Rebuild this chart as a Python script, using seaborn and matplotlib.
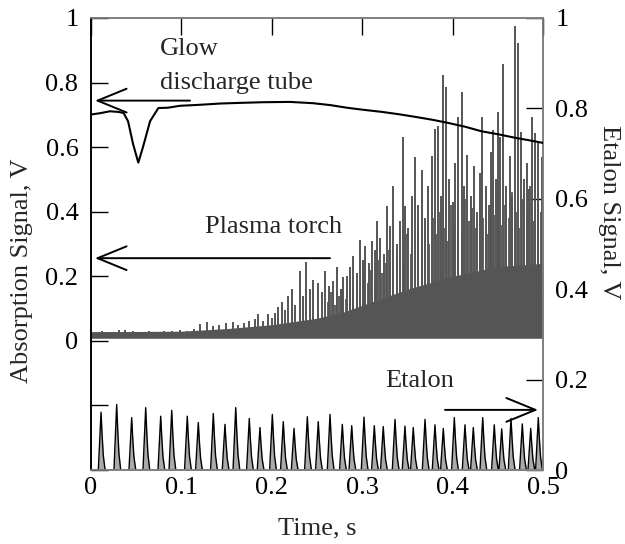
import numpy as np
import pandas as pd
import matplotlib
matplotlib.use('Agg')
import matplotlib.pyplot as plt
import seaborn as sns

# Glow discharge tube absorption (left axis)
glow_t = [0.000, 0.010, 0.021, 0.030, 0.036, 0.041, 0.0465, 0.0523, 0.0575, 0.0653,
          0.0745, 0.085, 0.0985, 0.120, 0.143, 0.165, 0.190, 0.220, 0.2456, 0.265,
          0.283, 0.300, 0.322, 0.340, 0.358, 0.377, 0.395, 0.414, 0.432, 0.450,
          0.469, 0.485, 0.500]
glow_v = [0.701, 0.705, 0.711, 0.709, 0.706, 0.680, 0.610, 0.552, 0.600, 0.680,
          0.721, 0.722, 0.728, 0.731, 0.735, 0.737, 0.739, 0.740, 0.736, 0.730,
          0.722, 0.716, 0.709, 0.702, 0.694, 0.685, 0.675, 0.663, 0.649, 0.640,
          0.629, 0.621, 0.613]

# Plasma torch absorption (left axis): baseline, dense band top, spikes
torch_base_t = [0.0, 0.1, 0.2, 0.3, 0.4, 0.5]
torch_base_v = [0.021, 0.021, 0.020, 0.019, 0.018, 0.018]
band_t = [0.0, 0.10, 0.15, 0.20, 0.25, 0.28, 0.30, 0.35, 0.40, 0.45, 0.50]
band_top = [0.028, 0.03, 0.038, 0.05, 0.07, 0.09, 0.11, 0.16, 0.20, 0.23, 0.24]
spike_t = [0.012, 0.020, 0.031, 0.038, 0.047, 0.056, 0.064, 0.072, 0.081, 0.090,
           0.098, 0.106, 0.114, 0.121, 0.128, 0.135, 0.142, 0.149, 0.157, 0.163,
           0.169, 0.175, 0.181, 0.185, 0.190, 0.196, 0.200, 0.204, 0.207, 0.211,
           0.215, 0.218, 0.222, 0.226, 0.231, 0.234, 0.238, 0.242, 0.246, 0.251,
           0.255, 0.259, 0.263, 0.268, 0.272, 0.276, 0.279, 0.283, 0.287, 0.290,
           0.294, 0.298, 0.301, 0.303, 0.307, 0.311, 0.314, 0.316, 0.320, 0.324,
           0.327, 0.331, 0.334, 0.338, 0.342, 0.345, 0.347, 0.351, 0.355, 0.358,
           0.362, 0.366, 0.370, 0.373, 0.377, 0.381, 0.384, 0.387, 0.389, 0.393,
           0.396, 0.400, 0.403, 0.406, 0.410, 0.413, 0.416, 0.420, 0.424, 0.427,
           0.430, 0.433, 0.437, 0.440, 0.443, 0.445, 0.448, 0.450, 0.452, 0.456,
           0.459, 0.463, 0.466, 0.469, 0.472, 0.476, 0.479, 0.482, 0.485, 0.4875,
           0.491, 0.495, 0.4985]
spike_h = [0.030, 0.028, 0.033, 0.035, 0.030, 0.008, 0.031, 0.010, 0.032, 0.030,
           0.035, 0.030, 0.038, 0.052, 0.059, 0.045, 0.050, 0.055, 0.059, 0.050,
           0.055, 0.060, 0.068, 0.083, 0.060, 0.083, 0.070, 0.085, 0.105, 0.120,
           0.095, 0.139, 0.160, 0.110, 0.216, 0.140, 0.244, 0.160, 0.190, 0.180,
           0.150, 0.216, 0.170, 0.185, 0.230, 0.160, 0.198, 0.200, 0.230, 0.262,
           0.210, 0.312, 0.250, 0.293, 0.240, 0.309, 0.280, 0.370, 0.320, 0.270,
           0.417, 0.355, 0.480, 0.300, 0.370, 0.630, 0.417, 0.350, 0.450, 0.568,
           0.420, 0.530, 0.380, 0.480, 0.571, 0.657, 0.664, 0.450, 0.824, 0.787,
           0.500, 0.430, 0.550, 0.694, 0.772, 0.480, 0.577, 0.450, 0.540, 0.400,
           0.520, 0.694, 0.480, 0.420, 0.586, 0.654, 0.500, 0.710, 0.630, 0.858,
           0.480, 0.571, 0.450, 0.975, 0.923, 0.648, 0.500, 0.550, 0.470, 0.694,
           0.645, 0.614, 0.568]
# medium-height spikes filling the dense part of the torch signal
mid_t = [0.262, 0.266, 0.270, 0.274, 0.278, 0.282, 0.286, 0.290, 0.294, 0.298,
         0.302, 0.306, 0.310, 0.314, 0.318, 0.322, 0.326, 0.330, 0.334, 0.338,
         0.342, 0.346, 0.350, 0.354, 0.358, 0.362, 0.366, 0.370, 0.374, 0.378,
         0.382, 0.386, 0.390, 0.394, 0.398, 0.402, 0.406, 0.410, 0.414, 0.418,
         0.422, 0.426, 0.430, 0.434, 0.438, 0.442, 0.446, 0.450, 0.454, 0.458,
         0.462, 0.466, 0.470, 0.474, 0.478, 0.482, 0.486, 0.490, 0.494, 0.498]
mid_h = [0.12, 0.15, 0.11, 0.14, 0.16, 0.13, 0.17, 0.15, 0.19, 0.16,
         0.21, 0.18, 0.22, 0.19, 0.25, 0.21, 0.24, 0.28, 0.22, 0.26,
         0.30, 0.24, 0.33, 0.27, 0.31, 0.36, 0.29, 0.34, 0.30, 0.38,
         0.33, 0.40, 0.35, 0.31, 0.42, 0.36, 0.39, 0.33, 0.44, 0.37,
         0.41, 0.35, 0.45, 0.38, 0.33, 0.43, 0.39, 0.47, 0.36, 0.42,
         0.38, 0.46, 0.40, 0.35, 0.44, 0.39, 0.48, 0.37, 0.42, 0.40]

# Etalon fringes (right axis): peak times and heights
etalon_t = [0.0111, 0.0284, 0.0450, 0.0605, 0.0771, 0.0893, 0.1065, 0.1187, 0.1353, 0.1482,
            0.1601, 0.1751, 0.1869, 0.2006, 0.2127, 0.2246, 0.2393, 0.2514, 0.2644, 0.2780,
            0.2884, 0.3020, 0.3134, 0.3233, 0.3363, 0.3473, 0.3565, 0.3695, 0.3805, 0.3897,
            0.4019, 0.4137, 0.4229, 0.4333, 0.4461, 0.4543, 0.4646, 0.4771, 0.4864, 0.4948]
etalon_h = [0.128, 0.145, 0.116, 0.138, 0.119, 0.132, 0.119, 0.105, 0.125, 0.101,
            0.138, 0.114, 0.094, 0.123, 0.107, 0.092, 0.118, 0.107, 0.123, 0.101,
            0.098, 0.117, 0.098, 0.096, 0.112, 0.097, 0.094, 0.112, 0.100, 0.092,
            0.116, 0.100, 0.094, 0.116, 0.100, 0.091, 0.114, 0.102, 0.092, 0.116]

sns.set_style('white')
plt.rcParams['font.family'] = ['Liberation Serif', 'DejaVu Serif']
FS = 19
plt.rcParams['font.size'] = FS

GRAY = '#808080'
TRACE = '#555555'

fig = plt.figure(figsize=(6.25, 5.44), dpi=100)
ax = fig.add_axes([0.1456, 0.136, 0.7232, 0.831])
ax2 = ax.twinx()

# etalon trace built from fringe peaks
et_x, et_y = [0.0], [0.0]
for t, h in zip(etalon_t, etalon_h):
    et_x += [t - 0.003, t - 0.0008, t, t + 0.0012, t + 0.0025, t + 0.0045]
    et_y += [0.0, 0.75 * h, h, 0.6 * h, 0.25 * h, 0.0]
et_x.append(0.5)
et_y.append(0.0)
etalon = pd.DataFrame({'t': et_x, 'v': et_y})
ax2.fill_between(et_x, 0, et_y, color='#aaaaaa', lw=0, zorder=1)
sns.lineplot(data=etalon, x='t', y='v', ax=ax2, color='black', lw=1.0,
             sort=False, estimator=None)

# plasma torch trace
ax.fill_between(band_t, 0.008, band_top, color=TRACE, lw=0, zorder=2)
ax.vlines(mid_t, 0.018, mid_h, color=TRACE, lw=1.3, zorder=2)
ax.vlines(spike_t, 0.018, spike_h, color=TRACE, lw=1.4, zorder=2)
base = pd.DataFrame({'t': torch_base_t, 'v': torch_base_v})
sns.lineplot(data=base, x='t', y='v', ax=ax, color=TRACE, lw=2.5, zorder=2)

# glow discharge trace
glow = pd.DataFrame({'t': glow_t, 'v': glow_v})
sns.lineplot(data=glow, x='t', y='v', ax=ax, color='black', lw=1.5, zorder=3)

# axes ranges and ticks
ax.set_xlim(0, 0.5)
ax.set_ylim(-0.4, 1.0)
ax2.set_ylim(0, 1.0)
ax.set_xticks([0, 0.1, 0.2, 0.3, 0.4, 0.5])
ax.set_xticklabels(['0', '0.1', '0.2', '0.3', '0.4', '0.5'])
ax.set_yticks([-0.4, -0.2, 0, 0.2, 0.4, 0.6, 0.8, 1.0])
ax.set_yticklabels(['', '', '0', '0.2', '0.4', '0.6', '0.8', '1'])
ax2.set_yticks([0, 0.2, 0.4, 0.6, 0.8, 1.0])
ax2.set_yticklabels(['0', '0.2', '0.4', '0.6', '0.8', '1'])
ax.tick_params(axis='y', direction='in', length=12, width=1, pad=9, labelsize=FS, colors='black')
ax.tick_params(axis='x', direction='in', length=12, width=1, pad=5, labelsize=FS,
               top=True, bottom=False, colors='black')
ax2.tick_params(axis='y', direction='in', length=12, width=1, pad=9, labelsize=FS, colors='black')

for a in (ax, ax2):
    for s in ('top', 'bottom', 'right'):
        a.spines[s].set_color(GRAY)
        a.spines[s].set_linewidth(1.2)
    a.spines['left'].set_color('black')
    a.spines['left'].set_linewidth(1.2)
ax.set_facecolor('none')
ax.set_zorder(ax2.get_zorder() + 1)

ax.set_xlabel('Time, s', fontsize=FS)
ax.xaxis.set_label_coords(0.5, -0.104)
ax.set_ylabel('Absorption Signal, V', fontsize=FS)
ax.yaxis.set_label_coords(-0.128, 0.44)
ax2.set_ylabel('Etalon Signal, V', fontsize=FS, rotation=270, va='center')
ax2.yaxis.set_label_coords(1.147, 0.571)

# annotations
arrow = dict(arrowstyle='->, head_length=1.1, head_width=0.45', color='black', lw=1.4,
             shrinkA=0, shrinkB=0)
ax.annotate('', xy=(0.0044, 0.744), xytext=(0.1095, 0.744), arrowprops=arrow)
ax.text(0.0763, 0.905, 'Glow', fontsize=FS, va='center', ha='left')
ax.text(0.0763, 0.80, 'discharge tube', fontsize=FS, va='center', ha='left')
ax.annotate('', xy=(0.0044, 0.256), xytext=(0.2644, 0.256), arrowprops=arrow)
ax.text(0.126, 0.352, 'Plasma torch', fontsize=FS, va='center', ha='left')
ax2.annotate('', xy=(0.4945, 0.133), xytext=(0.3916, 0.133), arrowprops=arrow)
ax2.text(0.325, 0.197, 'Etalon', fontsize=FS, va='center', ha='left')

fig.savefig('out.png', dpi=100)
